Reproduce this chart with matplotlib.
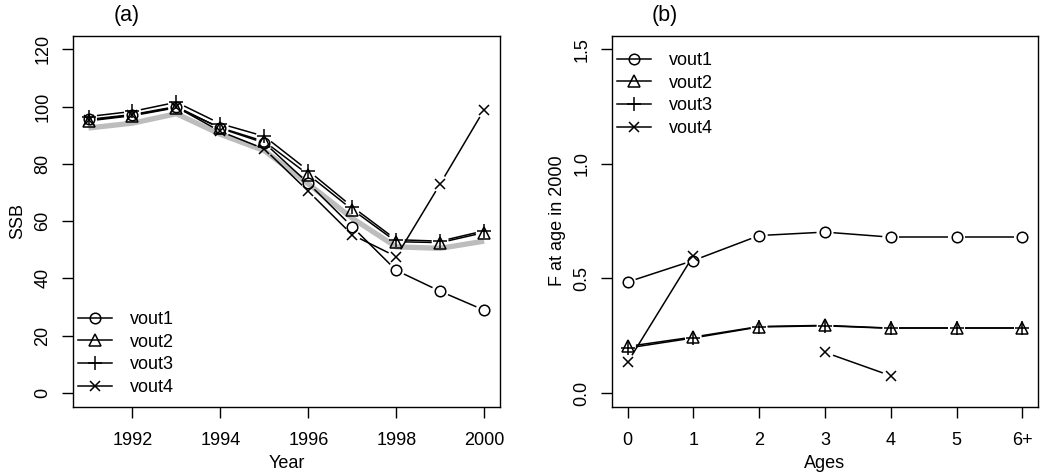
import numpy as np
import matplotlib
matplotlib.use("Agg")
import matplotlib.pyplot as plt
from matplotlib.lines import Line2D

plt.rcParams['font.family'] = ['Liberation Sans', 'DejaVu Sans']

# ---- data: panel (a) SSB by year ----
years = [1991, 1992, 1993, 1994, 1995, 1996, 1997, 1998, 1999, 2000]
ssb_ref = [92.5, 94.2, 97.5, 90.3, 84.6, 73.0, 61.0, 51.0, 50.5, 53.0]
ssb_vout1 = [95.5, 97.2, 100.0, 92.4, 87.3, 73.2, 58.0, 42.8, 35.5, 28.9]
ssb_vout2 = [95.0, 96.8, 99.6, 92.6, 87.8, 76.2, 64.0, 52.8, 52.5, 56.0]
ssb_vout3 = [96.5, 98.3, 101.5, 94.0, 89.6, 77.6, 65.0, 53.5, 53.0, 56.6]
ssb_vout4 = [95.3, 97.0, 99.8, 91.3, 85.2, 70.4, 55.2, 47.6, 73.0, 98.9]

# ---- data: panel (b) F at age in 2000 ----
ages = [0, 1, 2, 3, 4, 5, 6]
age_labels = ["0", "1", "2", "3", "4", "5", "6+"]
f_vout1 = [0.484, 0.578, 0.687, 0.702, 0.680, 0.680, 0.680]
f_vout2 = [0.203, 0.244, 0.290, 0.295, 0.283, 0.283, 0.283]
f_vout3 = [0.196, 0.240, 0.288, 0.293, 0.282, 0.282, 0.282]
f_vout4 = [0.133, 0.599, np.nan, 0.177, 0.075, np.nan, np.nan]

series_names = ["vout1", "vout2", "vout3", "vout4"]
markers = ["o", "^", "+", "x"]
msizes = [7.6, 8.0, 9.6, 6.8]

W, H = 1040, 476
fig = plt.figure(figsize=(W / 100, H / 100), dpi=100)

def frac_box(x0, x1, ytop, ybot):
    return [x0 / W, 1 - ybot / H, (x1 - x0) / W, (ybot - ytop) / H]

axA = fig.add_axes(frac_box(72.7, 500.0, 35.5, 406.7))
axB = fig.add_axes(frac_box(611.7, 1038.3, 35.5, 406.7))

LW = 1.1
GAP = 8.5  # pixel gap around points (R type="b")

def plot_b(ax, x, y, marker, ms):
    x = np.asarray(x, float)
    y = np.asarray(y, float)
    pts = ax.transData.transform(np.column_stack([x, y]))
    inv = ax.transData.inverted()
    for i in range(len(x) - 1):
        p, q = pts[i], pts[i + 1]
        if not (np.all(np.isfinite(p)) and np.all(np.isfinite(q))):
            continue
        d = q - p
        L = np.hypot(d[0], d[1])
        if L <= 2 * GAP:
            continue
        u = d / L
        seg = inv.transform(np.array([p + u * GAP, q - u * GAP]))
        ax.plot(seg[:, 0], seg[:, 1], color="black", lw=LW, solid_capstyle="butt")
    ax.plot(x, y, linestyle="none", marker=marker, ms=ms, mfc="none",
            mec="black", mew=LW)

def style_axis(ax):
    for s in ax.spines.values():
        s.set_linewidth(1.0)
    ax.tick_params(direction="out", length=8, width=1.0, labelsize=13)
    ax.tick_params(axis="x", pad=10.5)
    ax.tick_params(axis="y", pad=7.5)
    for lab in ax.get_yticklabels():
        lab.set_rotation(90)
        lab.set_va("center")

# ---- panel (a) ----
axA.set_xlim(1990.64, 2000.36)
axA.set_ylim(-4.8, 124.8)
axA.set_xticks([1992, 1994, 1996, 1998, 2000])
axA.set_yticks([0, 20, 40, 60, 80, 100, 120])
axA.plot(years, ssb_ref, color="#bdbdbd", lw=3.8, solid_capstyle="butt", zorder=1)
for vals, m, ms in zip([ssb_vout1, ssb_vout2, ssb_vout3, ssb_vout4], markers, msizes):
    plot_b(axA, years, vals, m, ms)
style_axis(axA)
axA.set_xlabel("Year", fontsize=13)
axA.xaxis.set_label_coords(0.5, (406.7 - 463) / 371.2)
axA.xaxis.label.set_va("center")
axA.set_ylabel("SSB", fontsize=13)
axA.yaxis.set_label_coords((18 - 72.7) / 427.3, 0.5)
axA.yaxis.label.set_va("center")

# ---- panel (b) ----
axB.set_xlim(-0.24, 6.24)
axB.set_ylim(-0.06, 1.56)
axB.set_xticks(ages)
axB.set_xticklabels(age_labels)
axB.set_yticks([0.0, 0.5, 1.0, 1.5])
axB.set_yticklabels(["0.0", "0.5", "1.0", "1.5"])
for vals, m, ms in zip([f_vout1, f_vout2, f_vout3, f_vout4], markers, msizes):
    plot_b(axB, ages, vals, m, ms)
style_axis(axB)
axB.set_xlabel("Ages", fontsize=13)
axB.xaxis.set_label_coords(0.5, (406.7 - 463) / 371.2)
axB.xaxis.label.set_va("center")
axB.set_ylabel("F at age in 2000", fontsize=13)
axB.yaxis.set_label_coords((558 - 611.7) / 426.6, 0.5)
axB.yaxis.label.set_va("center")

# legends
handles = [Line2D([], [], color="black", lw=LW, marker=m, ms=ms, mfc="none",
                  mec="black", mew=LW) for m, ms in zip(markers, msizes)]
for ax, anchor in [(axA, (0.0124, 0.258)), (axB, (0.0124, 0.956))]:
    ax.legend(handles, series_names, loc="upper left", bbox_to_anchor=anchor,
              frameon=False, fontsize=13, handlelength=1.9, handletextpad=0.95,
              labelspacing=0.32, borderpad=0, borderaxespad=0)

fig.text(127 / W, 1 - 16 / H, "(a)", ha="center", va="center", fontsize=15.5)
fig.text(665 / W, 1 - 16 / H, "(b)", ha="center", va="center", fontsize=15.5)

fig.savefig("out.png", dpi=100)
